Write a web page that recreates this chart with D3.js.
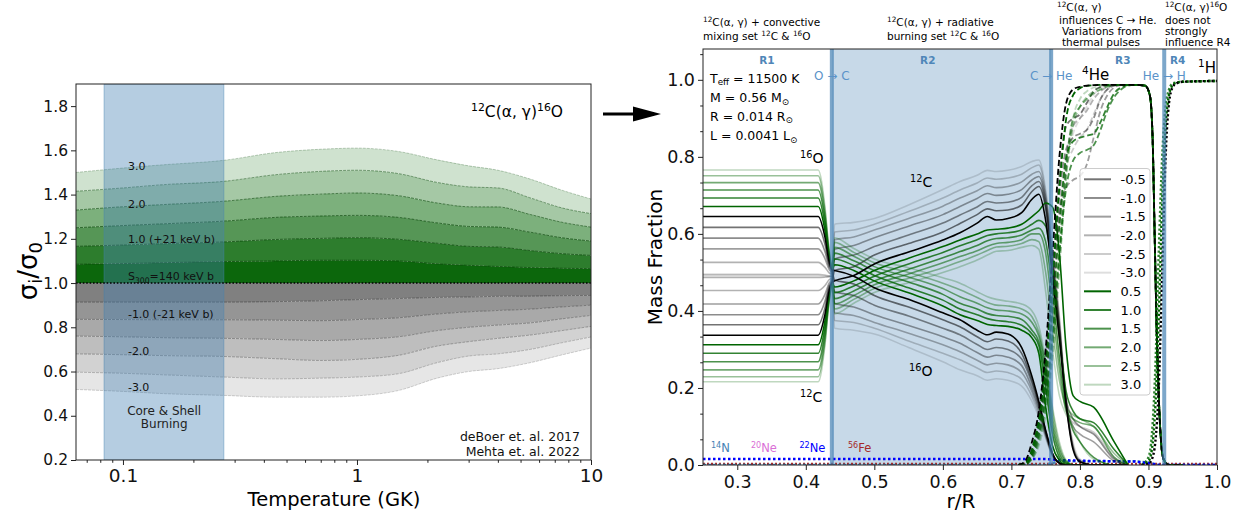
<!DOCTYPE html>
<html><head><meta charset="utf-8">
<script src="https://cdn.jsdelivr.net/npm/d3@7"></script>
<style>body{margin:0;background:#fff}svg{display:block;font-family:"DejaVu Sans",sans-serif}</style>
</head><body><svg id="c" width="1237" height="512"></svg>
<script>
// ---------------- LEFT PANEL DATA ----------------
const tempGrid = [0.063, 0.1, 0.15, 0.27, 0.45, 0.7, 1.0, 1.5, 2.2, 3.0, 4.0, 5.5, 7.5, 10];
const sigP05 = [1.085, 1.088, 1.092, 1.097, 1.1, 1.103, 1.103, 1.1, 1.087, 1.08, 1.075, 1.07, 1.067, 1.065];
const sigP10 = [1.166, 1.172, 1.178, 1.186, 1.197, 1.202, 1.205, 1.198, 1.18, 1.166, 1.163, 1.147, 1.133, 1.125];
const sigP15 = [1.25, 1.26, 1.268, 1.28, 1.297, 1.303, 1.306, 1.297, 1.272, 1.256, 1.253, 1.23, 1.205, 1.19];
const sigP20 = [1.33, 1.345, 1.355, 1.37, 1.392, 1.402, 1.407, 1.395, 1.362, 1.345, 1.344, 1.31, 1.275, 1.253];
const sigP25 = [1.415, 1.43, 1.445, 1.46, 1.49, 1.505, 1.51, 1.495, 1.455, 1.435, 1.43, 1.385, 1.34, 1.314];
const sigP30 = [1.5, 1.52, 1.535, 1.555, 1.59, 1.605, 1.61, 1.595, 1.557, 1.53, 1.51, 1.47, 1.42, 1.38];
const sigM05 = [0.914, 0.914, 0.914, 0.914, 0.916, 0.92, 0.925, 0.93, 0.935, 0.937, 0.94, 0.941, 0.943, 0.944];
const sigM10 = [0.836, 0.835, 0.834, 0.834, 0.832, 0.83, 0.835, 0.843, 0.86, 0.87, 0.876, 0.882, 0.892, 0.90];
const sigM15 = [0.76, 0.757, 0.753, 0.75, 0.745, 0.74, 0.745, 0.757, 0.785, 0.8, 0.81, 0.82, 0.838, 0.854];
const sigM20 = [0.68, 0.676, 0.672, 0.668, 0.658, 0.65, 0.655, 0.673, 0.715, 0.735, 0.75, 0.765, 0.785, 0.804];
const sigM25 = [0.597, 0.592, 0.585, 0.575, 0.567, 0.57, 0.575, 0.59, 0.64, 0.67, 0.68, 0.7, 0.73, 0.756];
const sigM30 = [0.519, 0.51, 0.5, 0.492, 0.484, 0.484, 0.49, 0.514, 0.57, 0.6, 0.613, 0.64, 0.675, 0.706];
const burnSpan = [0.083, 0.27];
const leftYTicks = [0.2, 0.4, 0.6, 0.8, 1.0, 1.2, 1.4, 1.6, 1.8];
const leftXTicks = [0.1, 1, 10];
const leftXMinor = [0.07, 0.08, 0.09, 0.2, 0.3, 0.4, 0.5, 0.6, 0.7, 0.8, 0.9, 2, 3, 4, 5, 6, 7, 8, 9];

// ---------------- RIGHT PANEL DATA ----------------
const rGrid = [0.25, 0.418, 0.428, 0.434, 0.4385, 0.442, 0.47, 0.5, 0.55, 0.6, 0.625, 0.65, 0.665, 0.678, 0.695, 0.715, 0.73, 0.74, 0.75, 0.76, 0.77, 0.78, 0.79, 0.8, 0.82, 0.85, 0.87];
const modelNames = ['-0.5', '-1.0', '-1.5', '-2.0', '-2.5', '-3.0', '0.5', '1.0', '1.5', '2.0', '2.5', '3.0'];
// baseline (black)
const carbonBase = [0.337, 0.337, 0.391, 0.452, 0.475, 0.478, 0.492, 0.522, 0.553, 0.584, 0.603, 0.628, 0.645, 0.636, 0.64, 0.655, 0.69, 0.703, 0.635, 0.49, 0.33, 0.155, 0.04, 0.008, 0, 0, 0];
const oxygenBase = [0.645, 0.645, 0.591, 0.529, 0.506, 0.505, 0.49, 0.46, 0.43, 0.395, 0.377, 0.35, 0.338, 0.345, 0.34, 0.305, 0.23, 0.165, 0.09, 0.03, 0.005, 0, 0, 0, 0, 0, 0];
// gray models
const carbonM05 = [0.364, 0.364, 0.408, 0.459, 0.477, 0.505, 0.515, 0.545, 0.575, 0.605, 0.627, 0.65, 0.665, 0.66, 0.662, 0.675, 0.71, 0.723, 0.665, 0.51, 0.345, 0.16, 0.045, 0.01, 0, 0, 0];
const oxygenM05 = [0.617, 0.617, 0.573, 0.522, 0.503, 0.48, 0.47, 0.44, 0.41, 0.377, 0.359, 0.333, 0.32, 0.327, 0.322, 0.29, 0.22, 0.16, 0.088, 0.03, 0.005, 0, 0, 0, 0, 0, 0];
const carbonM10 = [0.39, 0.39, 0.425, 0.465, 0.48, 0.535, 0.545, 0.567, 0.597, 0.628, 0.649, 0.67, 0.684, 0.68, 0.682, 0.695, 0.725, 0.736, 0.675, 0.52, 0.35, 0.17, 0.12, 0.1, 0.08, 0.015, 0];
const oxygenM10 = [0.589, 0.589, 0.554, 0.515, 0.5, 0.45, 0.44, 0.415, 0.387, 0.355, 0.338, 0.313, 0.3, 0.305, 0.3, 0.275, 0.212, 0.155, 0.085, 0.028, 0.005, 0, 0, 0, 0, 0, 0];
const carbonM15 = [0.418, 0.418, 0.443, 0.472, 0.483, 0.56, 0.57, 0.59, 0.62, 0.65, 0.671, 0.692, 0.705, 0.7, 0.703, 0.715, 0.74, 0.749, 0.685, 0.53, 0.36, 0.16, 0.1, 0.08, 0.06, 0.01, 0];
const oxygenM15 = [0.561, 0.561, 0.536, 0.508, 0.497, 0.42, 0.41, 0.39, 0.362, 0.333, 0.316, 0.292, 0.28, 0.285, 0.28, 0.258, 0.2, 0.148, 0.082, 0.027, 0.005, 0, 0, 0, 0, 0, 0];
const carbonM20 = [0.453, 0.453, 0.466, 0.481, 0.486, 0.585, 0.592, 0.61, 0.64, 0.672, 0.693, 0.712, 0.725, 0.72, 0.723, 0.735, 0.755, 0.762, 0.695, 0.54, 0.37, 0.165, 0.05, 0.012, 0, 0, 0];
const oxygenM20 = [0.526, 0.526, 0.513, 0.499, 0.494, 0.395, 0.388, 0.37, 0.342, 0.312, 0.294, 0.272, 0.26, 0.264, 0.26, 0.24, 0.19, 0.14, 0.078, 0.025, 0.005, 0, 0, 0, 0, 0, 0];
const carbonM25 = [0.487, 0.487, 0.488, 0.489, 0.49, 0.605, 0.61, 0.625, 0.658, 0.693, 0.714, 0.732, 0.745, 0.742, 0.745, 0.755, 0.772, 0.779, 0.705, 0.55, 0.38, 0.14, 0.11, 0.1, 0.085, 0.02, 0];
const oxygenM25 = [0.495, 0.495, 0.493, 0.491, 0.49, 0.375, 0.37, 0.355, 0.322, 0.29, 0.273, 0.252, 0.24, 0.244, 0.24, 0.222, 0.178, 0.132, 0.074, 0.024, 0.005, 0, 0, 0, 0, 0, 0];
const carbonM30 = [0.493, 0.493, 0.492, 0.49, 0.49, 0.625, 0.63, 0.64, 0.675, 0.715, 0.736, 0.752, 0.765, 0.762, 0.765, 0.775, 0.788, 0.792, 0.715, 0.56, 0.39, 0.17, 0.06, 0.015, 0, 0, 0];
const oxygenM30 = [0.487, 0.487, 0.488, 0.489, 0.49, 0.355, 0.35, 0.34, 0.305, 0.268, 0.247, 0.232, 0.22, 0.224, 0.22, 0.205, 0.165, 0.125, 0.07, 0.022, 0.004, 0, 0, 0, 0, 0, 0];
// green models
const carbonP05 = [0.312, 0.312, 0.374, 0.446, 0.472, 0.462, 0.478, 0.505, 0.537, 0.567, 0.584, 0.6, 0.61, 0.612, 0.615, 0.625, 0.645, 0.66, 0.68, 0.67, 0.55, 0.3, 0.18, 0.165, 0.15, 0.06, 0];
const oxygenP05 = [0.671, 0.671, 0.608, 0.535, 0.508, 0.52, 0.505, 0.478, 0.447, 0.413, 0.39, 0.375, 0.365, 0.362, 0.36, 0.35, 0.33, 0.29, 0.15, 0.05, 0.012, 0, 0, 0, 0, 0, 0];
const carbonP10 = [0.29, 0.29, 0.36, 0.44, 0.47, 0.447, 0.465, 0.49, 0.522, 0.552, 0.569, 0.585, 0.596, 0.6, 0.603, 0.61, 0.625, 0.635, 0.62, 0.5, 0.33, 0.19, 0.14, 0.12, 0.11, 0.04, 0];
const oxygenP10 = [0.693, 0.693, 0.622, 0.541, 0.51, 0.535, 0.518, 0.492, 0.46, 0.428, 0.405, 0.39, 0.38, 0.375, 0.372, 0.363, 0.34, 0.31, 0.2, 0.08, 0.02, 0.003, 0, 0, 0, 0, 0];
const carbonP15 = [0.268, 0.268, 0.346, 0.434, 0.468, 0.432, 0.452, 0.478, 0.508, 0.538, 0.554, 0.57, 0.582, 0.588, 0.59, 0.597, 0.61, 0.615, 0.58, 0.45, 0.28, 0.15, 0.09, 0.06, 0.02, 0, 0];
const oxygenP15 = [0.714, 0.714, 0.636, 0.546, 0.512, 0.55, 0.53, 0.505, 0.475, 0.443, 0.42, 0.405, 0.393, 0.388, 0.386, 0.378, 0.35, 0.32, 0.23, 0.1, 0.03, 0.005, 0, 0, 0, 0, 0];
const carbonP20 = [0.247, 0.247, 0.332, 0.428, 0.466, 0.418, 0.44, 0.468, 0.496, 0.525, 0.541, 0.556, 0.568, 0.575, 0.578, 0.585, 0.6, 0.6, 0.55, 0.4, 0.25, 0.14, 0.12, 0.11, 0.1, 0.02, 0];
const oxygenP20 = [0.733, 0.733, 0.648, 0.551, 0.514, 0.565, 0.542, 0.515, 0.488, 0.458, 0.437, 0.42, 0.408, 0.402, 0.4, 0.392, 0.37, 0.335, 0.25, 0.12, 0.04, 0.008, 0, 0, 0, 0, 0];
const carbonP25 = [0.229, 0.229, 0.32, 0.425, 0.464, 0.405, 0.43, 0.458, 0.485, 0.512, 0.528, 0.545, 0.557, 0.566, 0.568, 0.575, 0.585, 0.58, 0.5, 0.35, 0.22, 0.15, 0.13, 0.12, 0.1, 0.03, 0];
const oxygenP25 = [0.751, 0.751, 0.66, 0.556, 0.516, 0.578, 0.552, 0.525, 0.5, 0.472, 0.455, 0.435, 0.422, 0.415, 0.413, 0.405, 0.385, 0.345, 0.26, 0.14, 0.05, 0.01, 0, 0, 0, 0, 0];
const carbonP30 = [0.216, 0.216, 0.312, 0.422, 0.463, 0.392, 0.42, 0.448, 0.473, 0.5, 0.515, 0.532, 0.545, 0.555, 0.557, 0.565, 0.57, 0.56, 0.45, 0.3, 0.18, 0.13, 0.1, 0.06, 0.015, 0, 0];
const oxygenP30 = [0.766, 0.766, 0.67, 0.56, 0.518, 0.59, 0.562, 0.535, 0.512, 0.486, 0.472, 0.45, 0.437, 0.43, 0.425, 0.418, 0.4, 0.36, 0.27, 0.15, 0.06, 0.012, 0, 0, 0, 0, 0];
// helium (dashed): rising part per model + shared outer edge
const heGrid = [0.71, 0.72, 0.73, 0.74, 0.75, 0.76, 0.77, 0.78, 0.79, 0.8, 0.81, 0.82, 0.83, 0.84, 0.85, 0.86, 0.87, 0.88, 0.895, 0.902, 0.906, 0.909, 0.912, 0.915, 0.918, 0.922, 0.93, 0.95];
const heEdge = [0.985, 0.96, 0.85, 0.6, 0.35, 0.18, 0.07, 0.015, 0, 0];
const heliumBase = [0, 0.01, 0.06, 0.14, 0.3, 0.55, 0.8, 0.94, 0.975, 0.982, 0.985, 0.986, 0.987, 0.987, 0.987, 0.987, 0.987, 0.987];
const heliumM05 = [0, 0.005, 0.04, 0.12, 0.28, 0.5, 0.75, 0.88, 0.9, 0.91, 0.94, 0.97, 0.982, 0.986, 0.987, 0.987, 0.987, 0.987];
const heliumM10 = [0, 0.005, 0.035, 0.11, 0.26, 0.47, 0.7, 0.82, 0.85, 0.86, 0.87, 0.9, 0.95, 0.975, 0.985, 0.987, 0.987, 0.987];
const heliumM15 = [0, 0.004, 0.03, 0.1, 0.24, 0.45, 0.66, 0.72, 0.74, 0.75, 0.78, 0.85, 0.92, 0.96, 0.98, 0.986, 0.987, 0.987];
const heliumM20 = [0, 0.003, 0.025, 0.09, 0.22, 0.42, 0.65, 0.8, 0.88, 0.9, 0.92, 0.95, 0.97, 0.982, 0.986, 0.987, 0.987, 0.987];
const heliumM25 = [0, 0.003, 0.02, 0.08, 0.2, 0.4, 0.62, 0.77, 0.82, 0.85, 0.87, 0.91, 0.95, 0.975, 0.985, 0.987, 0.987, 0.987];
const heliumM30 = [0, 0.002, 0.02, 0.07, 0.19, 0.38, 0.6, 0.78, 0.86, 0.9, 0.93, 0.96, 0.98, 0.985, 0.987, 0.987, 0.987, 0.987];
const heliumP05 = [0, 0.005, 0.04, 0.12, 0.26, 0.48, 0.72, 0.9, 0.96, 0.978, 0.984, 0.986, 0.987, 0.987, 0.987, 0.987, 0.987, 0.987];
const heliumP10 = [0, 0.004, 0.03, 0.1, 0.22, 0.4, 0.62, 0.8, 0.84, 0.85, 0.855, 0.86, 0.89, 0.93, 0.965, 0.98, 0.986, 0.987];
const heliumP15 = [0, 0.003, 0.025, 0.08, 0.18, 0.34, 0.55, 0.72, 0.79, 0.81, 0.818, 0.83, 0.87, 0.92, 0.955, 0.975, 0.985, 0.987];
const heliumP20 = [0, 0.002, 0.02, 0.07, 0.17, 0.33, 0.55, 0.78, 0.9, 0.93, 0.95, 0.965, 0.975, 0.982, 0.986, 0.987, 0.987, 0.987];
const heliumP25 = [0, 0.002, 0.015, 0.06, 0.15, 0.3, 0.52, 0.75, 0.88, 0.93, 0.955, 0.97, 0.98, 0.985, 0.987, 0.987, 0.987, 0.987];
const heliumP30 = [0, 0.002, 0.015, 0.05, 0.13, 0.28, 0.5, 0.76, 0.9, 0.95, 0.97, 0.98, 0.985, 0.987, 0.987, 0.987, 0.987, 0.987];
// hydrogen (dotted)
const hGrid = [0.89, 0.9, 0.905, 0.91, 0.915, 0.92, 0.925, 0.93, 0.935, 0.94, 0.95, 1.0];
const hydrogenBase = [0, 0.003, 0.015, 0.06, 0.2, 0.5, 0.8, 0.94, 0.98, 0.99, 0.995, 0.997];
const hydrogenP05 = [0, 0.01, 0.04, 0.15, 0.38, 0.68, 0.88, 0.96, 0.985, 0.992, 0.995, 0.997];
const hydrogenP10 = [0, 0.02, 0.08, 0.25, 0.55, 0.8, 0.93, 0.975, 0.99, 0.993, 0.995, 0.997];
// minor isotopes
const ne22R = [0.25, 0.75, 0.77, 0.8, 0.88, 0.9, 0.915, 1.0];
const ne22V = [0.0155, 0.0155, 0.013, 0.011, 0.009, 0.005, 0, 0];
const n14R = [0.25, 0.75, 0.77, 0.88, 0.9, 0.915, 1.0];
const n14V = [0, 0, 0.01, 0.01, 0.006, 0, 0];
const fe56R = [0.25, 1.0];
const fe56V = [0.003, 0.003];
const ne20R = [0.25, 1.0];
const ne20V = [0.001, 0.001];
const regionBounds = [0.438, 0.758, 0.923];
const rightYTicks = [0, 0.2, 0.4, 0.6, 0.8, 1.0];
const rightXTicks = [0.3, 0.4, 0.5, 0.6, 0.7, 0.8, 0.9, 1.0];

// ---------------- HELPERS ----------------
const svg = d3.select('#c');
const FONT = '"DejaVu Sans", sans-serif';
function rich(sel, str, fs) {
  const parts = str.split(/(\^\{[^}]*\}|_\{[^}]*\})/).filter(s => s !== '');
  let off = 0;
  parts.forEach(p => {
    let target = 0, txt = p, size = fs;
    if (p.startsWith('^{')) { target = -0.38 * fs; txt = p.slice(2, -1); size = fs * 0.7; }
    else if (p.startsWith('_{')) { target = 0.2 * fs; txt = p.slice(2, -1); size = fs * 0.7; }
    sel.append('tspan').attr('dy', (target - off).toFixed(2)).attr('font-size', size).text(txt);
    off = target;
  });
  return sel;
}
function addText(g, x, y, str, fs, opts = {}) {
  const t = g.append('text').attr('x', x).attr('y', y).attr('font-size', fs)
    .attr('fill', opts.fill || '#000').attr('text-anchor', opts.anchor || 'start');
  if (opts.weight) t.attr('font-weight', opts.weight);
  rich(t, str, fs);
  return t;
}

// ---------------- LEFT PANEL ----------------
const xL = d3.scaleLog().domain([0.063, 10]).range([76, 591]);
const yL = d3.scaleLinear().domain([0.2, 1.9]).range([460, 84]);
const gL = svg.append('g');
svg.append('defs').append('clipPath').attr('id', 'clipL').append('rect')
  .attr('x', 76).attr('y', 84).attr('width', 515).attr('height', 376);
const base1 = tempGrid.map(() => 1.0);
const posLevels = [base1, sigP05, sigP10, sigP15, sigP20, sigP25, sigP30];
const negLevels = [base1, sigM05, sigM10, sigM15, sigM20, sigM25, sigM30];
const greenFill = ['#0c670c', '#2d7d2d', '#569656', '#7cb07c', '#a5c8a5', '#cfe2cf'];
const grayFill = ['#808080', '#959595', '#a9a9a9', '#bebebe', '#d2d2d2', '#e6e6e6'];
const greenLineOp = [0.9, 0.85, 0.8, 0.7, 0.55, 0.3];
const grayLineOp = [0.6, 0.55, 0.5, 0.45, 0.35, 0.25];
const pl = gL.append('g').attr('clip-path', 'url(#clipL)');
function bandArea(lo, hi) {
  return d3.area().x((d, i) => xL(tempGrid[i])).y0((d, i) => yL(lo[i])).y1((d, i) => yL(hi[i]))
    .curve(d3.curveMonotoneX)(tempGrid);
}
const lvlLine = arr => d3.line().x((d, i) => xL(tempGrid[i])).y(d => yL(d)).curve(d3.curveMonotoneX)(arr);
for (let i = 0; i < 6; i++) {
  pl.append('path').attr('d', bandArea(posLevels[i], posLevels[i + 1])).attr('fill', greenFill[i]);
  pl.append('path').attr('d', bandArea(negLevels[i + 1], negLevels[i])).attr('fill', grayFill[i]);
}
for (let i = 1; i <= 6; i++) {
  pl.append('path').attr('d', lvlLine(posLevels[i])).attr('fill', 'none').attr('stroke', '#0a4a0a')
    .attr('stroke-opacity', greenLineOp[i - 1]).attr('stroke-width', 0.9).attr('stroke-dasharray', '3,1');
  pl.append('path').attr('d', lvlLine(negLevels[i])).attr('fill', 'none').attr('stroke', '#3a3a3a')
    .attr('stroke-opacity', grayLineOp[i - 1]).attr('stroke-width', 0.9).attr('stroke-dasharray', '3,1');
}
// burning span
pl.append('rect').attr('x', xL(burnSpan[0])).attr('y', 84).attr('width', xL(burnSpan[1]) - xL(burnSpan[0]))
  .attr('height', 376).attr('fill', 'steelblue').attr('fill-opacity', 0.4)
  .attr('stroke', 'steelblue').attr('stroke-opacity', 0.5).attr('stroke-width', 0.8);
// dotted S300 line
pl.append('path').attr('d', lvlLine(base1)).attr('fill', 'none').attr('stroke', '#000')
  .attr('stroke-width', 1.6).attr('stroke-dasharray', '1.6,1.8');
// labels
const lLab = gL.append('g').attr('font-family', FONT);
[['3.0', 1.513], ['2.0', 1.34], ['1.0 (+21 keV b)', 1.181], ['S_{300}=140 keV b', 1.012],
 ['-1.0 (-21 keV b)', 0.843], ['-2.0', 0.673], ['-3.0', 0.51]].forEach(([t, v]) => {
  addText(lLab, xL(0.105), yL(v), t, 11, { fill: '#111' });
});
addText(lLab, xL(0.15), yL(0.405), 'Core &  Shell', 12, { anchor: 'middle', fill: '#222' });
addText(lLab, xL(0.15), yL(0.344), 'Burning', 12, { anchor: 'middle', fill: '#222' });
addText(lLab, 580, yL(0.287), 'deBoer et. al. 2017', 12.5, { anchor: 'end', fill: '#111' });
addText(lLab, 580, yL(0.217), 'Mehta et. al. 2022', 12.5, { anchor: 'end', fill: '#111' });
addText(lLab, 471, 117, '^{12}C(α, γ)^{16}O', 15.5);
// axes
gL.append('rect').attr('x', 76).attr('y', 84).attr('width', 515).attr('height', 376)
  .attr('fill', 'none').attr('stroke', '#222').attr('stroke-width', 1);
const axLY = gL.append('g').attr('transform', 'translate(76,0)')
  .call(d3.axisLeft(yL).tickValues(leftYTicks).tickFormat(d3.format('.1f')).tickSize(5).tickPadding(3));
axLY.selectAll('text').attr('font-size', 15.5).attr('font-family', FONT).attr('fill', '#111');
const axLX = gL.append('g').attr('transform', 'translate(0,460)')
  .call(d3.axisBottom(xL).tickValues(leftXTicks).tickFormat(d => d === 0.1 ? '0.1' : String(d)).tickSize(5).tickPadding(3.5));
axLX.selectAll('text').attr('font-size', 18.5).attr('font-family', FONT).attr('fill', '#111');
gL.append('g').attr('transform', 'translate(0,460)')
  .call(d3.axisBottom(xL).tickValues(leftXMinor).tickFormat('').tickSize(2.8));
gL.selectAll('.domain').remove();
gL.selectAll('.tick line').attr('stroke', '#222');
const yLab = gL.append('text').attr('transform', 'translate(37,271) rotate(-90)').attr('text-anchor', 'middle')
  .attr('font-size', 26).attr('font-family', FONT);
rich(yLab, 'σ_{i}/σ_{0}', 26);
gL.append('text').attr('x', 334).attr('y', 506).attr('text-anchor', 'middle').attr('font-size', 19.5)
  .attr('font-family', FONT).text('Temperature (GK)');

// arrow
svg.append('path').attr('d', 'M603,112.6 L633,112.6 L633,106.5 L661,114 L633,121.5 L633,115.4 L603,115.4 Z').attr('fill', '#000');

// ---------------- RIGHT PANEL ----------------
const xR = d3.scaleLinear().domain([0.25, 1.0]).range([703, 1217]);
const yR = d3.scaleLinear().domain([0, 1.08]).range([465, 49]);
const gR = svg.append('g').attr('font-family', FONT);
svg.select('defs').append('clipPath').attr('id', 'clipR').append('rect')
  .attr('x', 703).attr('y', 49).attr('width', 514).attr('height', 416);
const pr = gR.append('g').attr('clip-path', 'url(#clipR)');
pr.append('rect').attr('x', xR(regionBounds[0])).attr('y', 49).attr('width', xR(regionBounds[1]) - xR(regionBounds[0]))
  .attr('height', 416).attr('fill', 'steelblue').attr('fill-opacity', 0.3);

const lineOn = (grid) => d3.line().x((d, i) => xR(grid[i])).y(d => yR(d)).curve(d3.curveMonotoneX);
const grayAlpha = [0.55, 0.45, 0.38, 0.3, 0.2, 0.13];
const greenAlpha = [1, 0.8, 0.7, 0.55, 0.4, 0.25];
const grayModels = [
  [carbonM05, oxygenM05, heliumM05], [carbonM10, oxygenM10, heliumM10], [carbonM15, oxygenM15, heliumM15],
  [carbonM20, oxygenM20, heliumM20], [carbonM25, oxygenM25, heliumM25], [carbonM30, oxygenM30, heliumM30]];
const greenModels = [
  [carbonP05, oxygenP05, heliumP05], [carbonP10, oxygenP10, heliumP10], [carbonP15, oxygenP15, heliumP15],
  [carbonP20, oxygenP20, heliumP20], [carbonP25, oxygenP25, heliumP25], [carbonP30, oxygenP30, heliumP30]];
const models = [];
for (let i = 5; i >= 0; i--) models.push({ d: grayModels[i], color: '#000', op: grayAlpha[i] });
for (let i = 5; i >= 0; i--) models.push({ d: greenModels[i], color: '#006400', op: greenAlpha[i] });
models.push({ d: [carbonBase, oxygenBase, heliumBase], color: '#000', op: 1 });

// minor isotopes
const isoLine = (R, V, col, w, dash) => pr.append('path').attr('d', d3.line().x((d, i) => xR(R[i])).y(d => yR(d))(V))
  .attr('fill', 'none').attr('stroke', col).attr('stroke-width', w).attr('stroke-dasharray', dash);
isoLine(ne20R, ne20V, 'orchid', 2, '2,2');
isoLine(fe56R, fe56V, 'brown', 2, '2,2');
isoLine(n14R, n14V, 'steelblue', 2.5, '3,2');
isoLine(ne22R, ne22V, 'blue', 2.5, '2.5,2.5');

models.forEach(m => {
  const [c, o] = m.d;
  [c, o].forEach(arr => pr.append('path').attr('d', lineOn(rGrid)(arr)).attr('fill', 'none')
    .attr('stroke', m.color).attr('stroke-opacity', m.op).attr('stroke-width', 1.6));
});
models.forEach(m => {
  const he = m.d[2].concat(heEdge);
  pr.append('path').attr('d', lineOn(heGrid)(he)).attr('fill', 'none')
    .attr('stroke', m.color).attr('stroke-opacity', m.op).attr('stroke-width', 1.8).attr('stroke-dasharray', '6,3');
});
[[hydrogenP10, '#006400', 0.8], [hydrogenP05, '#006400', 1], [hydrogenBase, '#000', 1]].forEach(([h, col, op]) => {
  pr.append('path').attr('d', lineOn(hGrid)(h)).attr('fill', 'none').attr('stroke', col).attr('stroke-opacity', op)
    .attr('stroke-width', 2.4).attr('stroke-dasharray', '2.2,2.2');
});
// region boundaries
regionBounds.forEach(b => pr.append('line').attr('x1', xR(b)).attr('x2', xR(b)).attr('y1', 49).attr('y2', 465)
  .attr('stroke', 'steelblue').attr('stroke-opacity', 0.7).attr('stroke-width', 4));

// legend
const lg = gR.append('g');
lg.append('rect').attr('x', 1080).attr('y', 168.5).attr('width', 70).attr('height', 226.5).attr('rx', 3)
  .attr('fill', '#fff').attr('fill-opacity', 0.8).attr('stroke', '#ccc').attr('stroke-width', 1);
modelNames.forEach((n, i) => {
  const y = 179.3 + i * 18.67;
  const isGray = i < 6;
  lg.append('line').attr('x1', 1084).attr('x2', 1111).attr('y1', y).attr('y2', y)
    .attr('stroke', isGray ? '#000' : '#006400').attr('stroke-opacity', isGray ? grayAlpha[i] : greenAlpha[i - 6])
    .attr('stroke-width', 2);
  lg.append('text').attr('x', 1120.5).attr('y', y).attr('dy', '0.36em').attr('font-size', 13).text(n);
});

// annotations in panel
const ann = gR.append('g');
[['R1', 0.3433], ['R2', 0.578], ['R3', 0.8625], ['R4', 0.9427]].forEach(([t, r]) =>
  addText(ann, xR(r), 64, t, 10.5, { anchor: 'middle', fill: '#4f86b8', weight: 'bold' }));
[['O → C', regionBounds[0]], ['C → He', regionBounds[1]], ['He → H', regionBounds[2]]].forEach(([t, r]) =>
  addText(ann, xR(r), 79.5, t, 12, { anchor: 'middle', fill: '#5b93c9' }));
addText(ann, 710, 82.7, 'T_{eff} = 11500 K', 12.5);
addText(ann, 710, 102.3, 'M  =  0.56 M_{⊙}', 12.5);
addText(ann, 710, 120.7, 'R  =  0.014 R_{⊙}', 12.5);
addText(ann, 710, 140, 'L  =  0.0041 L_{⊙}', 12.5);
addText(ann, 800, 163, '^{16}O', 14);
addText(ann, 910, 187, '^{12}C', 14);
addText(ann, 909, 376, '^{16}O', 14);
addText(ann, 800, 402, '^{12}C', 14);
addText(ann, 1082, 80, '^{4}He', 15);
addText(ann, 1198, 73, '^{1}H', 15);
addText(ann, 711, 452, '^{14}N', 11.5, { fill: 'steelblue' });
addText(ann, 751, 452, '^{20}Ne', 11.5, { fill: 'orchid' });
addText(ann, 799.5, 452, '^{22}Ne', 11.5, { fill: 'blue' });
addText(ann, 848, 452, '^{56}Fe', 11.5, { fill: 'brown' });
// header notes
addText(ann, 703, 25.5, '^{12}C(α, γ) + convective', 10.5);
addText(ann, 703, 39.5, 'mixing set ^{12}C & ^{16}O', 10.5);
addText(ann, 887, 25.5, '^{12}C(α, γ) + radiative', 10.5);
addText(ann, 887, 39.5, 'burning set ^{12}C & ^{16}O', 10.5);
addText(ann, 1057, 10.5, '^{12}C(α, γ)', 10.5);
addText(ann, 1059, 23.5, 'influences C → He.', 10.5);
addText(ann, 1062, 35, 'Variations from', 10.5);
addText(ann, 1062, 46, 'thermal pulses', 10.5);
addText(ann, 1165, 10.5, '^{12}C(α, γ)^{16}O', 10.5);
addText(ann, 1165, 23.5, 'does not', 10.5);
addText(ann, 1165, 34.5, 'strongly', 10.5);
addText(ann, 1165, 46, 'influence R4', 10.5);

// axes
gR.append('rect').attr('x', 703).attr('y', 49).attr('width', 514).attr('height', 416)
  .attr('fill', 'none').attr('stroke', '#222').attr('stroke-width', 1);
const axRY = gR.append('g').attr('transform', 'translate(703,0)')
  .call(d3.axisLeft(yR).tickValues(rightYTicks).tickFormat(d3.format('.1f')).tickSize(5).tickPadding(3));
axRY.selectAll('text').attr('font-size', 17.5).attr('font-family', FONT).attr('fill', '#111');
const minorY = d3.range(1, 17).filter(k => k % 3 !== 0).map(k => k * 0.2 / 3);
gR.append('g').attr('transform', 'translate(703,0)').call(d3.axisLeft(yR).tickValues(minorY).tickFormat('').tickSize(2.8));
const axRX = gR.append('g').attr('transform', 'translate(0,465)')
  .call(d3.axisBottom(xR).tickValues(rightXTicks).tickFormat(d3.format('.1f')).tickSize(5).tickPadding(5.5));
axRX.selectAll('text').attr('font-size', 17.5).attr('font-family', FONT).attr('fill', '#111');
gR.selectAll('.domain').remove();
gR.selectAll('.tick line').attr('stroke', '#222');
gR.append('text').attr('transform', 'translate(662,257) rotate(-90)').attr('text-anchor', 'middle')
  .attr('font-size', 20).text('Mass Fraction');
gR.append('text').attr('x', 961).attr('y', 508).attr('text-anchor', 'middle').attr('font-size', 20).text('r/R');
</script></body></html>
